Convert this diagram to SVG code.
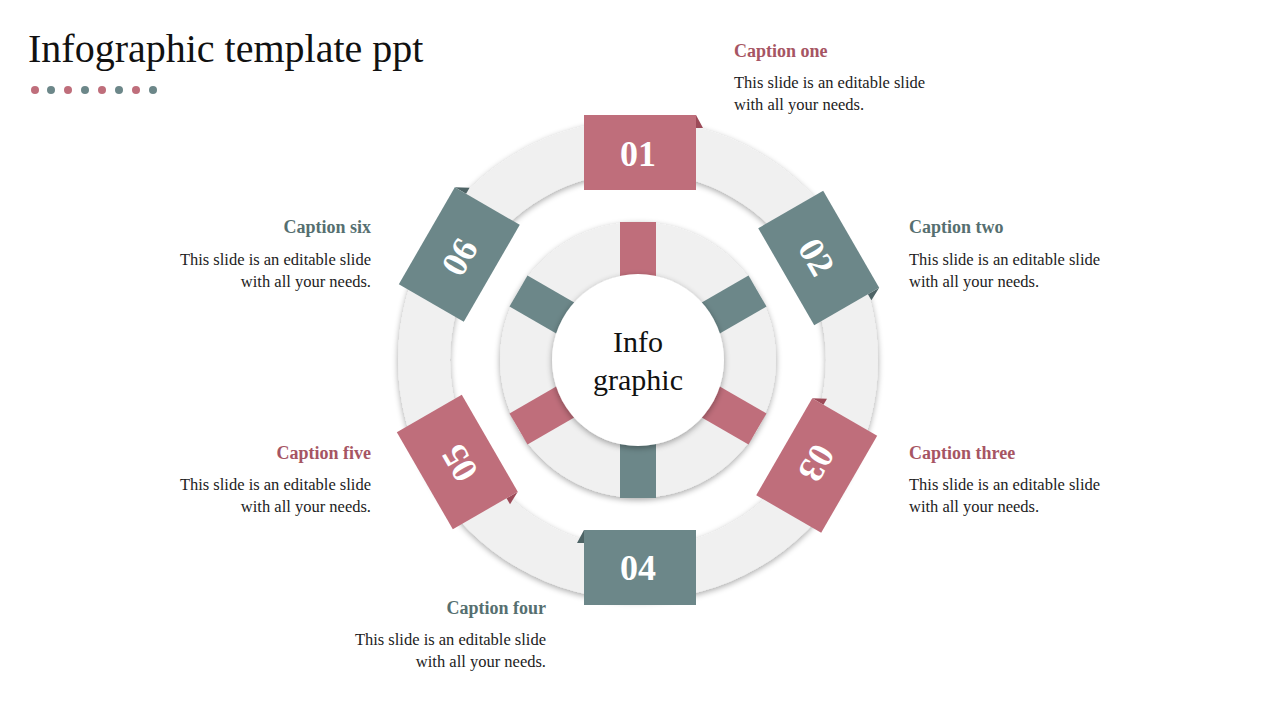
<svg xmlns="http://www.w3.org/2000/svg" width="1280" height="720" viewBox="0 0 1280 720">
<defs>
<filter id="sh" x="-20%" y="-20%" width="140%" height="140%"><feGaussianBlur in="SourceAlpha" stdDeviation="3"/><feOffset dx="0" dy="2"/><feComponentTransfer><feFuncA type="linear" slope="0.35"/></feComponentTransfer><feMerge><feMergeNode/><feMergeNode in="SourceGraphic"/></feMerge></filter>
</defs>
<style>
.t{font-family:"Liberation Serif","DejaVu Serif",serif}
.num{font-family:"Liberation Serif",serif;font-weight:bold;font-size:36px;fill:#fff;text-anchor:middle}
.cp{fill:#A65563;font-weight:bold;font-size:18px}
.ct{fill:#566F70;font-weight:bold;font-size:18px}
.b{fill:#222;font-size:16.5px}
.pk{fill:#BF6E7B}.tl{fill:#6C8789}
.pkd{fill:#9C4A58}.tld{fill:#4E6466}
</style>
<rect width="1280" height="720" fill="#fff"/>
<text class="t" x="28" y="62" font-size="40" fill="#111">Infographic template ppt</text>
<g id="dots">
<circle cx="35" cy="90" r="4" class="pk"/><circle cx="51" cy="90" r="4" class="tl"/><circle cx="68" cy="90" r="4" class="pk"/><circle cx="85" cy="90" r="4" class="tl"/><circle cx="102" cy="90" r="4" class="pk"/><circle cx="119" cy="90" r="4" class="tl"/><circle cx="136" cy="90" r="4" class="pk"/><circle cx="153" cy="90" r="4" class="tl"/>
</g>
<g id="rings">
<path d="M638,120a240,240 0 1,0 0.01,0ZM638,172a188,188 0 1,1 -0.01,0Z" fill="#F0F0F0" fill-rule="evenodd" filter="url(#sh)"/>
<path d="M638,222a138,138 0 1,0 0.01,0ZM638,274a86,86 0 1,1 -0.01,0Z" fill="#F0F0F0" fill-rule="evenodd" filter="url(#sh)"/>
</g>
<g id="spokes">
<rect x="620" y="222" width="36" height="54" class="pk"/>
<rect x="620" y="222" width="36" height="54" class="tl" transform="rotate(60 638 360)"/>
<rect x="620" y="222" width="36" height="54" class="pk" transform="rotate(120 638 360)"/>
<rect x="620" y="222" width="36" height="54" class="tl" transform="rotate(180 638 360)"/>
<rect x="620" y="222" width="36" height="54" class="pk" transform="rotate(240 638 360)"/>
<rect x="620" y="222" width="36" height="54" class="tl" transform="rotate(300 638 360)"/>
</g>
<g id="center">
<circle cx="638" cy="360" r="86" fill="#fff" filter="url(#sh)"/>
<text class="t" x="638" y="352" font-size="30" text-anchor="middle" fill="#111">Info</text>
<text class="t" x="638" y="390" font-size="30" text-anchor="middle" fill="#111">graphic</text>
</g>
<g id="n1"><polygon points="696,115 703,128 696,128" class="pkd"/><rect x="584" y="115" width="112" height="75" class="pk"/><text class="num" x="638" y="166">01</text></g>
<g id="n2" transform="rotate(60 638 360)"><polygon points="696,115 703,128 696,128" class="tld"/><rect x="584" y="115" width="112" height="75" class="tl"/><text class="num" x="638" y="166">02</text></g>
<g id="n3" transform="rotate(120 638 360)"><polygon points="584,190 577,177 584,177" class="pkd"/><rect x="584" y="115" width="112" height="75" class="pk"/><text class="num" x="638" y="166">03</text></g>
<g id="n4"><polygon points="584,530 577,543 584,543" class="tld"/><rect x="584" y="530" width="112" height="75" class="tl"/><text class="num" x="638" y="580">04</text></g>
<g id="n5" transform="rotate(240 638 360)"><polygon points="584,190 577,177 584,177" class="pkd"/><rect x="584" y="115" width="112" height="75" class="pk"/><text class="num" x="638" y="166">05</text></g>
<g id="n6" transform="rotate(300 638 360)"><polygon points="696,115 703,128 696,128" class="tld"/><rect x="584" y="115" width="112" height="75" class="tl"/><text class="num" x="638" y="166">06</text></g>
<g id="captions" class="t">
<text class="t cp" x="734" y="57">Caption one</text>
<text class="t b" x="734" y="88">This slide is an editable slide</text><text class="t b" x="734" y="110">with all your needs.</text>
<text class="t ct" x="909" y="233">Caption two</text>
<text class="t b" x="909" y="265">This slide is an editable slide</text><text class="t b" x="909" y="287">with all your needs.</text>
<text class="t cp" x="909" y="459">Caption three</text>
<text class="t b" x="909" y="490">This slide is an editable slide</text><text class="t b" x="909" y="512">with all your needs.</text>
<g text-anchor="end">
<text class="t ct" x="546" y="614">Caption four</text>
<text class="t b" x="546" y="645">This slide is an editable slide</text><text class="t b" x="546" y="667">with all your needs.</text>
<text class="t cp" x="371" y="459">Caption five</text>
<text class="t b" x="371" y="490">This slide is an editable slide</text><text class="t b" x="371" y="512">with all your needs.</text>
<text class="t ct" x="371" y="233">Caption six</text>
<text class="t b" x="371" y="265">This slide is an editable slide</text><text class="t b" x="371" y="287">with all your needs.</text>
</g>
</g>
</svg>
